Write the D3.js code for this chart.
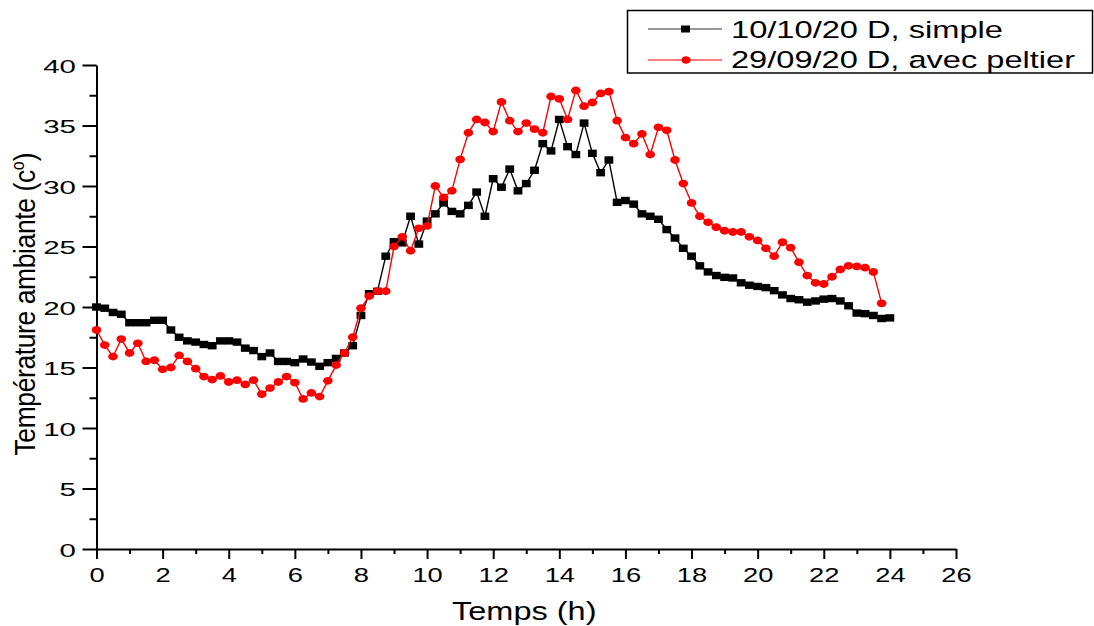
<!DOCTYPE html>
<html>
<head>
<meta charset="utf-8">
<script src="https://cdn.jsdelivr.net/npm/d3@7/dist/d3.min.js"></script>
<style>
  html, body { margin: 0; padding: 0; background: #fff; }
  svg { display: block; }
  text { font-family: "Liberation Sans", Arial, sans-serif; fill: #000; }
</style>
</head>
<body>
<svg id="chart" width="1094" height="626"></svg>
<script>
// ---- data ----
const hoursSimple = [0,0.25,0.5,0.75,1,1.25,1.5,1.75,2,2.25,2.5,2.75,3,3.25,3.5,3.75,4,4.25,4.5,4.75,5,5.25,5.5,5.75,6,6.25,6.5,6.75,7,7.25,7.5,7.75,8,8.25,8.5,8.75,9,9.25,9.5,9.75,10,10.25,10.5,10.75,11,11.25,11.5,11.75,12,12.25,12.5,12.75,13,13.25,13.5,13.75,14,14.25,14.5,14.75,15,15.25,15.5,15.75,16,16.25,16.5,16.75,17,17.25,17.5,17.75,18,18.25,18.5,18.75,19,19.25,19.5,19.75,20,20.25,20.5,20.75,21,21.25,21.5,21.75,22,22.25,22.5,22.75,23,23.25,23.5,23.75,24];
const tempSimple = [20.0,19.9,19.55,19.4,18.7,18.7,18.7,18.9,18.9,18.1,17.5,17.2,17.1,16.9,16.8,17.2,17.2,17.1,16.6,16.4,15.9,16.2,15.5,15.5,15.4,15.7,15.45,15.1,15.4,15.75,16.2,16.8,19.3,21.1,21.3,24.2,25.4,25.3,27.5,25.2,27.1,27.7,28.6,27.9,27.7,28.4,29.5,27.5,30.6,29.9,31.4,29.6,30.2,31.3,33.5,32.9,35.5,33.25,32.6,35.2,32.7,31.1,32.15,28.65,28.8,28.5,27.7,27.5,27.25,26.4,25.7,24.85,24.2,23.4,22.9,22.6,22.45,22.4,22.0,21.8,21.7,21.6,21.35,21.0,20.7,20.6,20.4,20.5,20.65,20.7,20.5,20.1,19.5,19.45,19.3,19.05,19.1];

const hoursPeltier = [0,0.25,0.5,0.75,1,1.25,1.5,1.75,2,2.25,2.5,2.75,3,3.25,3.5,3.75,4,4.25,4.5,4.75,5,5.25,5.5,5.75,6,6.25,6.5,6.75,7,7.25,7.5,7.75,8,8.25,8.5,8.75,9,9.25,9.5,9.75,10,10.25,10.5,10.75,11,11.25,11.5,11.75,12,12.25,12.5,12.75,13,13.25,13.5,13.75,14,14.25,14.5,14.75,15,15.25,15.5,15.75,16,16.25,16.5,16.75,17,17.25,17.5,17.75,18,18.25,18.5,18.75,19,19.25,19.5,19.75,20,20.25,20.5,20.75,21,21.25,21.5,21.75,22,22.25,22.5,22.75,23,23.25,23.5,23.75];
const tempPeltier = [18.1,16.85,15.9,17.35,16.2,17.0,15.5,15.6,14.85,15.0,16.0,15.5,14.9,14.25,14.0,14.3,13.8,13.95,13.6,13.95,12.8,13.3,13.8,14.25,13.75,12.4,12.9,12.6,13.9,15.2,16.2,17.5,19.9,20.9,21.3,21.3,25.0,25.8,24.65,26.5,26.7,30.0,29.05,29.6,32.2,34.4,35.5,35.25,34.5,36.95,35.4,34.5,35.2,34.7,34.4,37.4,37.2,35.5,37.9,36.6,36.9,37.65,37.8,35.4,34.0,33.5,34.3,32.6,34.85,34.6,32.15,30.2,28.6,27.5,27.0,26.6,26.3,26.2,26.2,25.8,25.5,24.85,24.2,25.35,24.9,23.7,22.6,22.0,21.9,22.5,23.1,23.4,23.35,23.25,22.9,20.3];

const seriesNames = ["10/10/20 D, simple", "29/09/20 D, avec peltier"];
const xMajorTicks = [0,2,4,6,8,10,12,14,16,18,20,22,24,26];
const xMinorTicks = [1,3,5,7,9,11,13,15,17,19,21,23,25];
const yMajorTicks = [0,5,10,15,20,25,30,35,40];
const yMinorTicks = [2.5,7.5,12.5,17.5,22.5,27.5,32.5,37.5];
const xTitle = "Temps (h)";
const yTitleMain = "Température ambiante (c";
const yTitleSup = "o";
const yTitleEnd = ")";

// ---- layout ----
const svg = d3.select("#chart");
const L = 96.5, R = 956, T = 65, B = 549;
const x = d3.scaleLinear().domain([0, 26]).range([L, R]);
const y = d3.scaleLinear().domain([0, 40]).range([B, T]);

// axes
const gx = svg.append("g").attr("transform", `translate(0,${B})`);
gx.call(d3.axisBottom(x).tickValues(xMajorTicks).tickSize(10).tickSizeOuter(0).tickFormat(d3.format("d")));
const gxm = svg.append("g").attr("transform", `translate(0,${B})`);
gxm.call(d3.axisBottom(x).tickValues(xMinorTicks).tickSize(5).tickSizeOuter(0).tickFormat(""));
gxm.select(".domain").remove();
gx.selectAll("text")
  .attr("y", null).attr("dy", null)
  .attr("transform", "translate(0,32.5) scale(1.4,1)")
  .style("font-size", "19.5px")
  .style("font-family", '"Liberation Sans", Arial, sans-serif');

const gy = svg.append("g").attr("transform", `translate(${L},0)`);
gy.call(d3.axisLeft(y).tickValues(yMajorTicks).tickSize(14).tickSizeOuter(0).tickFormat(d3.format("d")));
const gym = svg.append("g").attr("transform", `translate(${L},0)`);
gym.call(d3.axisLeft(y).tickValues(yMinorTicks).tickSize(7).tickSizeOuter(0).tickFormat(""));
gym.select(".domain").remove();
gy.selectAll("text")
  .attr("x", null).attr("dy", null)
  .attr("transform", "translate(-20.5,7) scale(1.55,1)")
  .style("font-size", "19px")
  .style("font-family", '"Liberation Sans", Arial, sans-serif');

svg.selectAll(".domain").attr("stroke", "#000").attr("stroke-width", 2);
svg.selectAll(".tick line").attr("stroke", "#000").attr("stroke-width", 2);

// axis titles
svg.append("text")
  .attr("transform", `translate(${(L + R) / 2 - 2},620) scale(1.3,1)`)
  .attr("text-anchor", "middle")
  .style("font-size", "25px")
  .text(xTitle);

const yt = svg.append("text")
  .attr("transform", "translate(35,304) rotate(-90) scale(1,1.1)")
  .attr("text-anchor", "middle")
  .style("font-size", "26.5px");
yt.append("tspan").attr("letter-spacing", "-0.4px").text(yTitleMain);
yt.append("tspan").attr("dy", -10).style("font-size", "16px").text(yTitleSup);
yt.append("tspan").attr("dy", 10).text(yTitleEnd);

// series
const line = d3.line().x(d => x(d[0])).y(d => y(d[1]));
const dataSimple = hoursSimple.map((h, i) => [h, tempSimple[i]]);
const dataPeltier = hoursPeltier.map((h, i) => [h, tempPeltier[i]]);

svg.append("path").datum(dataSimple)
  .attr("d", line).attr("fill", "none").attr("stroke", "#000").attr("stroke-width", 1.4);
svg.append("g").selectAll("rect").data(dataSimple).join("rect")
  .attr("x", d => x(d[0]) - 4.4).attr("y", d => y(d[1]) - 3.7)
  .attr("width", 8.8).attr("height", 7.4).attr("fill", "#000");

svg.append("path").datum(dataPeltier)
  .attr("d", line).attr("fill", "none").attr("stroke", "#ff0000").attr("stroke-width", 1.4);
svg.append("g").selectAll("ellipse").data(dataPeltier).join("ellipse")
  .attr("cx", d => x(d[0])).attr("cy", d => y(d[1]))
  .attr("rx", 4.8).attr("ry", 3.9).attr("fill", "#ff0000");

// legend
const lg = svg.append("g");
lg.append("rect").attr("x", 627.5).attr("y", 10.5).attr("width", 465).attr("height", 62.5)
  .attr("fill", "#fff").attr("stroke", "#000").attr("stroke-width", 1.5);
const legendRows = [
  { name: seriesNames[0], color: "#000", shape: "rect", cy: 29, len: 272, base: 37.5 },
  { name: seriesNames[1], color: "#ff0000", shape: "circle", cy: 60, len: 344, base: 68 }
];
legendRows.forEach(r => {
  lg.append("line").attr("x1", 648).attr("x2", 722).attr("y1", r.cy).attr("y2", r.cy)
    .attr("stroke", r.color === "#000" ? "#333" : r.color).attr("stroke-width", 1);
  if (r.shape === "rect") {
    lg.append("rect").attr("x", 681).attr("y", r.cy - 3.5).attr("width", 9).attr("height", 7).attr("fill", r.color);
  } else {
    lg.append("ellipse").attr("cx", 686).attr("cy", r.cy).attr("rx", 4.6).attr("ry", 3.8).attr("fill", r.color);
  }
  lg.append("text").attr("x", 731).attr("y", r.base)
    .attr("textLength", r.len).attr("lengthAdjust", "spacingAndGlyphs")
    .style("font-size", "24.5px").text(r.name);
});
</script>
</body>
</html>
